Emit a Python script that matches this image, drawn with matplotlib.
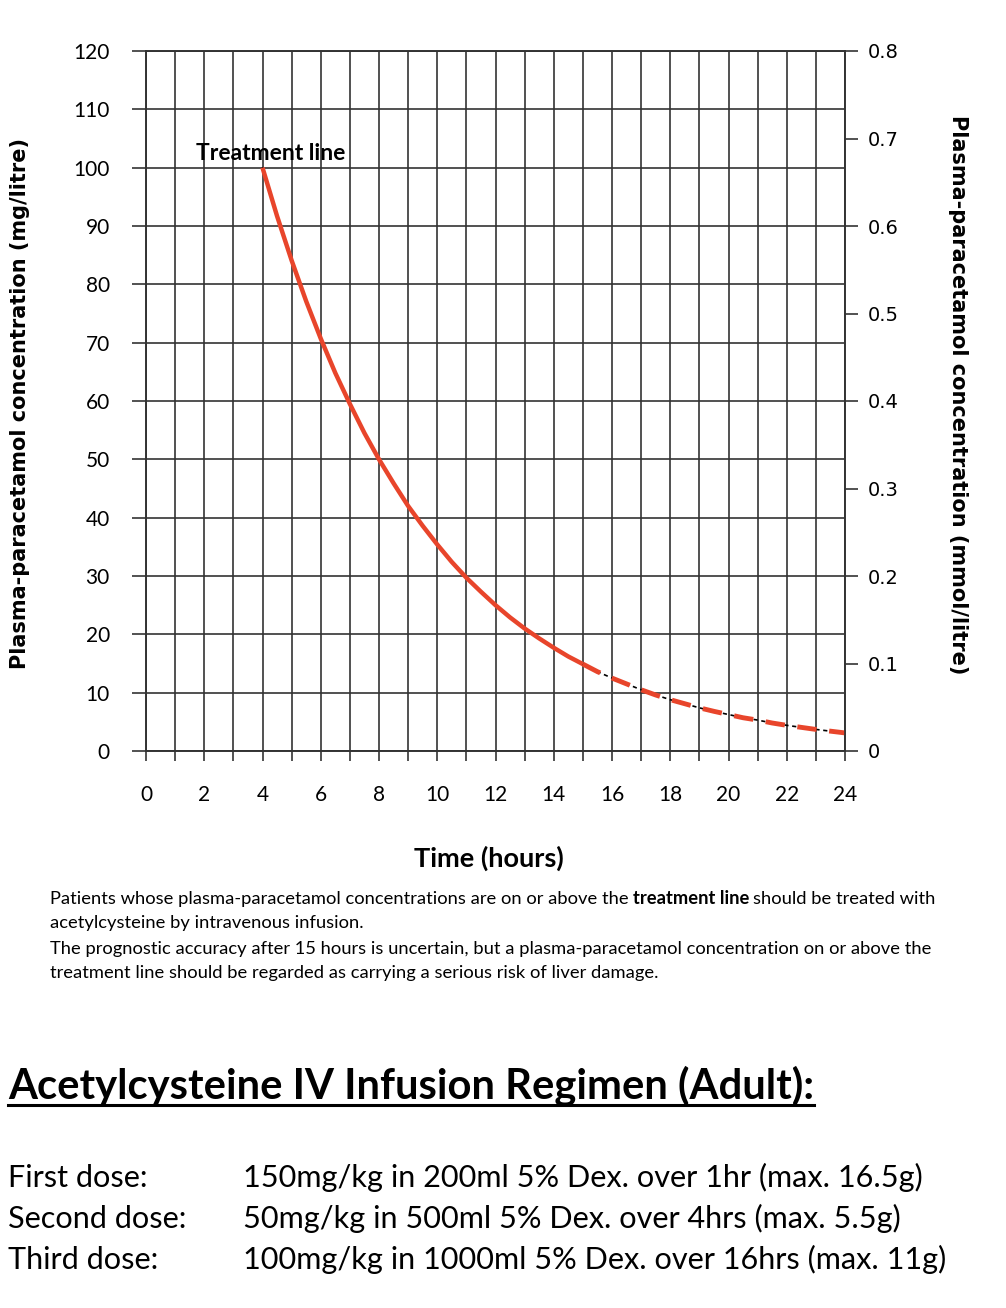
import matplotlib
matplotlib.use('Agg')
import matplotlib.pyplot as plt
from matplotlib.lines import Line2D

# treatment line (mg/litre, every half hour)
hours = [4, 4.5, 5, 5.5, 6, 6.5, 7, 7.5, 8, 8.5, 9, 9.5, 10, 10.5, 11, 11.5,
         12, 12.5, 13, 13.5, 14, 14.5, 15, 15.5, 16, 16.5, 17, 17.5, 18, 18.5,
         19, 19.5, 20, 20.5, 21, 21.5, 22, 22.5, 23, 23.5, 24]
conc = [100, 91.7, 84.1, 77.1, 70.7, 64.8, 59.5, 54.5, 50, 45.9, 42.0, 38.6,
        35.4, 32.4, 29.7, 27.3, 25, 22.9, 21.0, 19.3, 17.7, 16.2, 14.9, 13.6,
        12.5, 11.5, 10.5, 9.6, 8.8, 8.1, 7.4, 6.8, 6.25, 5.7, 5.3, 4.8, 4.4,
        4.05, 3.7, 3.4, 3.1]
solid_end = 15  # after 15 hours the line is dashed

x_major = list(range(0, 25, 2))
x_minor = list(range(1, 25, 2))
y_left = list(range(0, 121, 10))
y_right = [0, 0.1, 0.2, 0.3, 0.4, 0.5, 0.6, 0.7, 0.8]
y_right_labels = ['0', '0.1', '0.2', '0.3', '0.4', '0.5', '0.6', '0.7', '0.8']

note_lines = [
    ("Patients whose plasma-paracetamol concentrations are on or above the",
     "treatment line", "should be treated with"),
    ("acetylcysteine by intravenous infusion.", "", ""),
    ("The prognostic accuracy after 15 hours is uncertain, but a plasma-paracetamol concentration on or above the", "", ""),
    ("treatment line should be regarded as carrying a serious risk of liver damage.", "", ""),
]
heading = "Acetylcysteine IV Infusion Regimen (Adult):"
dose_names = ["First dose:", "Second dose:", "Third dose:"]
dose_text = ["150mg/kg in 200ml 5% Dex. over 1hr (max. 16.5g)",
             "50mg/kg in 500ml 5% Dex. over 4hrs (max. 5.5g)",
             "100mg/kg in 1000ml 5% Dex. over 16hrs (max. 11g)"]

W, H = 1006, 1308
grid_c = '#333333'
red = '#e8452b'

fig = plt.figure(figsize=(W / 100, H / 100), dpi=100)
fig.patch.set_facecolor('white')

ax = fig.add_axes([146 / W, 1 - 751 / H, 699 / W, 700 / H])
ax.set_xlim(0, 24)
ax.set_ylim(0, 120)
ax.set_xticks(x_major)
ax.set_xticks(x_minor, minor=True)
ax.set_yticks(y_left)
ax.grid(True, which='both', axis='x', color=grid_c, lw=1.2)
ax.grid(True, which='major', axis='y', color=grid_c, lw=1.2)
ax.set_axisbelow(True)
for s in ax.spines.values():
    s.set_color(grid_c)
    s.set_linewidth(1.2)
ax.tick_params(axis='x', which='both', length=7.5, width=1.2, color=grid_c,
               pad=17, labelsize=15)
ax.tick_params(axis='y', length=10, width=1.2, color=grid_c, pad=16, labelsize=15)
for lab in ax.get_xticklabels() + ax.get_yticklabels():
    lab.set_fontfamily('Lato')

ax2 = ax.twinx()
ax2.set_ylim(0, 0.8)
ax2.set_yticks(y_right)
ax2.set_yticklabels(y_right_labels, fontfamily='DejaVu Sans')
ax2.tick_params(axis='y', length=9.5, width=1.2, color=grid_c, pad=7, labelsize=14)
for s in ax2.spines.values():
    s.set_color(grid_c)
    s.set_linewidth(1.2)

# curve
i_end = hours.index(solid_end)
ax.plot(hours[:i_end + 1], conc[:i_end + 1], color='black', lw=1.0, zorder=3)
ax.plot(hours[i_end:], conc[i_end:], color='black', lw=1.2, dashes=(2.5, 2.2), zorder=3)
ax.plot(hours[:i_end + 1], conc[:i_end + 1], color=red, lw=3.2, zorder=4,
        solid_capstyle='butt')
ax.plot(hours[i_end:], conc[i_end:], color=red, lw=3.5, dashes=(4.0, 2.6), zorder=4)

ax.text(1.72, 102.5, "Treatment line", ha='left', va='center', fontsize=16.5,
        fontweight='bold', fontfamily='Lato', zorder=5)

ax.set_ylabel("Plasma-paracetamol concentration (mg/litre)", fontsize=15,
              fontweight='bold', fontfamily='DejaVu Sans', va='center')
ax.yaxis.set_label_coords((20 - 146) / 699, 0.497)
ax2.set_ylabel("Plasma-paracetamol concentration (mmol/litre)", fontsize=15,
               fontweight='bold', fontfamily='DejaVu Sans', rotation=270,
               va='center')
ax2.yaxis.set_label_coords((958 - 146) / 699, 0.509)

fig.text(489 / W, 1 - 858 / H, "Time (hours)", ha='center', va='center',
         fontsize=19.5, fontweight='bold', fontfamily='Lato')

fig.canvas.draw()
r = fig.canvas.get_renderer()

# notes under the chart
fs_note = 13.2
note_base = [904, 928, 954, 978]
for (a, b, c), yb in zip(note_lines, note_base):
    t = fig.text(50 / W, 1 - yb / H, a, fontsize=fs_note, fontfamily='Lato',
                 va='baseline')
    if b:
        x1 = t.get_window_extent(r).x1 + 4
        t = fig.text(x1 / W, 1 - yb / H, b, fontsize=fs_note, fontfamily='Lato',
                     fontweight='bold', va='baseline')
        x1 = t.get_window_extent(r).x1 + 4
        fig.text(x1 / W, 1 - yb / H, c, fontsize=fs_note, fontfamily='Lato',
                 va='baseline')

# regimen
th = fig.text(8 / W, 1 - 1098 / H, heading, fontsize=30.1, fontweight='bold',
              fontfamily='Lato', va='baseline')
bb = th.get_window_extent(r)
fig.add_artist(Line2D([bb.x0 / W, bb.x1 / W], [1 - 1105 / H, 1 - 1105 / H],
                      transform=fig.transFigure, color='black', lw=2.2))

dose_base = [1187, 1228, 1269]
for name, txt, yb in zip(dose_names, dose_text, dose_base):
    fig.text(8 / W, 1 - yb / H, name, fontsize=22.1, fontfamily='Lato', va='baseline')
    fig.text(243 / W, 1 - yb / H, txt, fontsize=22.1, fontfamily='Lato', va='baseline')

fig.savefig('out.png', dpi=100, facecolor='white')
